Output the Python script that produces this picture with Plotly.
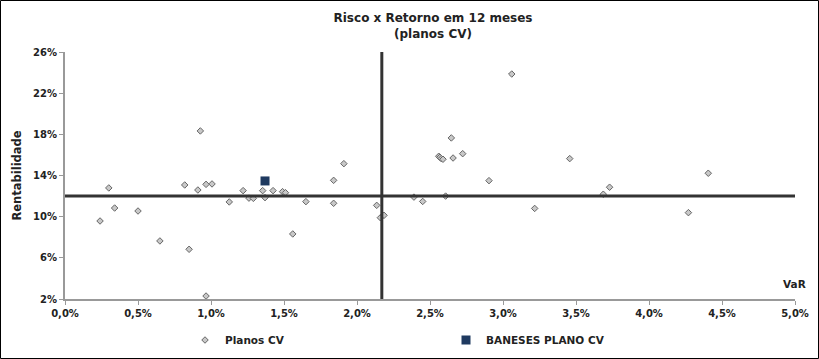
import plotly.graph_objects as go

# Data (VaR %, Rentabilidade %)
planos_var = [0.24, 0.30, 0.34, 0.50, 0.65, 0.82, 0.85, 0.91, 0.927, 0.966, 1.007, 0.966,
              1.125, 1.22, 1.26, 1.29, 1.354, 1.37, 1.425, 1.49, 1.51, 1.56, 1.65, 1.84,
              1.84, 1.91, 2.135, 2.16, 2.185,
              3.06, 2.646, 2.56, 2.568, 2.577, 2.589, 2.658, 2.724, 2.904, 3.457, 4.406,
              3.73, 3.687, 2.39, 2.45, 2.607, 3.217, 4.27]
planos_ret = [9.58, 12.79, 10.84, 10.55, 7.64, 13.08, 6.83, 12.59, 18.33, 13.14, 13.18, 2.29,
              11.43, 12.53, 11.80, 11.78, 12.53, 11.85, 12.53, 12.43, 12.33, 8.32, 11.46, 13.53,
              11.30, 15.15, 11.10, 9.90, 10.13,
              23.86, 17.65, 15.87, 15.77, 15.64, 15.58, 15.70, 16.12, 13.50, 15.64, 14.22,
              12.86, 12.18, 11.90, 11.48, 12.00, 10.80, 10.39]
baneses_var = [1.37]
baneses_ret = [13.47]
ref_var = 2.17   # vertical reference line (VaR)
ref_ret = 12.0   # horizontal reference line (Rentabilidade)

x_ticks = [0.0, 0.5, 1.0, 1.5, 2.0, 2.5, 3.0, 3.5, 4.0, 4.5, 5.0]
y_ticks = [2, 6, 10, 14, 18, 22, 26]

W, H = 819, 359
ML, MR, MT, MB = 65, 24, 52, 60
PW, PH = W - ML - MR, H - MT - MB

font_fam = "DejaVu Sans, Verdana, sans-serif"
txt_col = "#222222"

fig = go.Figure()
fig.add_trace(go.Scatter(
    x=[v / 100 for v in planos_var], y=[v / 100 for v in planos_ret],
    mode="markers", name="Planos CV",
    marker=dict(symbol="diamond", size=5, color="#c8c8c8",
                line=dict(color="#666666", width=1)),
))
fig.add_trace(go.Scatter(
    x=[v / 100 for v in baneses_var], y=[v / 100 for v in baneses_ret],
    mode="markers", name="BANESES PLANO CV",
    marker=dict(symbol="square", size=9, color="#1f3a60",
                line=dict(color="#1f3a60", width=0)),
))

fig.update_layout(
    width=W, height=H,
    margin=dict(l=ML, r=MR, t=MT, b=MB, autoexpand=False),
    paper_bgcolor="white", plot_bgcolor="white",
    separators=",.",
    font=dict(family=font_fam, color=txt_col, size=10),
    title=dict(text="<b>Risco x Retorno em 12 meses</b><br><b>(planos CV)</b>",
               x=(433 - ML) / PW, xref="paper", xanchor="center",
               y=1 - 22 / H, yanchor="top",
               font=dict(size=12, family=font_fam, color=txt_col)),
    xaxis=dict(range=[0, 0.05], tickvals=[v / 100 for v in x_ticks], tickformat=".1%",
               showgrid=False, zeroline=False, showline=True, linecolor="#999999",
               linewidth=2, ticks="outside", ticklen=4, tickcolor="#999999",
               automargin=False,
               tickfont=dict(size=10, weight="bold", color=txt_col)),
    yaxis=dict(range=[0.02, 0.26], tickvals=[v / 100 for v in y_ticks], tickformat=".0%",
               showgrid=False, zeroline=False, showline=True, linecolor="#999999",
               linewidth=2, ticks="outside", ticklen=4, tickcolor="#999999",
               automargin=True,
               tickfont=dict(size=10, weight="bold", color=txt_col),
               title=dict(text="<b>Rentabilidade</b>", font=dict(size=11.5, color=txt_col),
                          standoff=9)),
    showlegend=True,
    legend=dict(orientation="h", x=(185 - ML) / PW, xanchor="left",
                y=-(340 - MT - PH) / PH, yanchor="middle",
                font=dict(size=10.5, weight="bold", color=txt_col),
                entrywidth=216, entrywidthmode="pixels",
                bgcolor="rgba(0,0,0,0)"),
    shapes=[
        dict(type="line", xref="x", yref="paper", x0=ref_var / 100, x1=ref_var / 100,
             y0=0, y1=1, line=dict(color="#333333", width=3)),
        dict(type="line", xref="paper", yref="y", x0=0, x1=1, y0=ref_ret / 100,
             y1=ref_ret / 100, line=dict(color="#333333", width=3)),
        dict(type="rect", xref="paper", yref="paper",
             x0=-(ML - 0.5) / PW, x1=1 + (MR - 0.5) / PW,
             y0=-(MB - 0.5) / PH, y1=1 + (MT - 0.5) / PH,
             line=dict(color="black", width=1), fillcolor="rgba(0,0,0,0)"),
    ],
    annotations=[
        dict(text="<b>VaR</b>", xref="paper", yref="paper", x=1, y=0,
             xanchor="right", yanchor="middle", xshift=13, yshift=15, showarrow=False,
             font=dict(size=10.5, color=txt_col)),
    ],
)

fig.write_html("out.html", config={"displayModeBar": False},
               post_script="document.body.style.margin='0';")
